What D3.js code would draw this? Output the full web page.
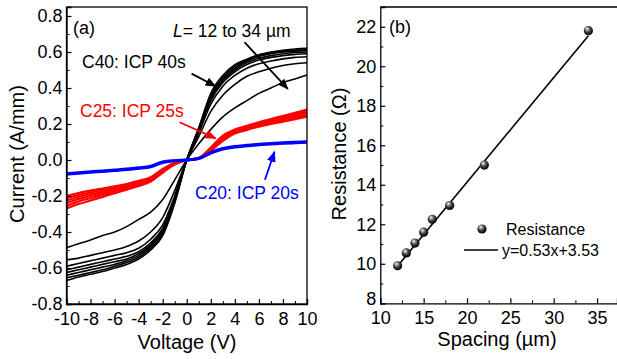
<!DOCTYPE html>
<html>
<head>
<meta charset="utf-8">
<script src="https://cdn.jsdelivr.net/npm/d3@7"></script>
<style>
  body { margin: 0; background: #fff; }
  svg text { font-family: Arial, "Liberation Sans", sans-serif; }
</style>
</head>
<body>
<div id="chart"></div>
<script>
// ---- panel (a) data: I-V curves ----
const voltage = [-10,-9,-8,-7,-6,-5,-4,-3,-2,-1,0,1,2,3,4,5,6,7,8,9,10];

const c40Curves = [
  [-0.67,-0.65,-0.635,-0.62,-0.60,-0.58,-0.55,-0.50,-0.42,-0.24,0,0.18,0.37,0.47,0.53,0.56,0.585,0.60,0.61,0.617,0.62],
  [-0.655,-0.64,-0.625,-0.61,-0.59,-0.57,-0.54,-0.49,-0.41,-0.23,0,0.175,0.36,0.46,0.52,0.555,0.58,0.595,0.605,0.61,0.613],
  [-0.64,-0.625,-0.61,-0.595,-0.58,-0.56,-0.53,-0.48,-0.40,-0.225,0,0.17,0.35,0.45,0.51,0.55,0.575,0.59,0.60,0.605,0.607],
  [-0.625,-0.61,-0.595,-0.58,-0.565,-0.55,-0.52,-0.47,-0.39,-0.22,0,0.165,0.34,0.44,0.50,0.54,0.565,0.58,0.59,0.597,0.60],
  [-0.61,-0.595,-0.58,-0.565,-0.55,-0.535,-0.51,-0.46,-0.38,-0.21,0,0.16,0.33,0.43,0.49,0.53,0.555,0.57,0.58,0.587,0.59],
  [-0.59,-0.575,-0.56,-0.545,-0.53,-0.515,-0.49,-0.44,-0.36,-0.20,0,0.15,0.31,0.41,0.47,0.51,0.535,0.55,0.562,0.57,0.574],
  [-0.555,-0.545,-0.53,-0.515,-0.50,-0.48,-0.45,-0.40,-0.32,-0.17,0,0.13,0.27,0.36,0.42,0.465,0.49,0.51,0.525,0.535,0.54],
  [-0.487,-0.465,-0.445,-0.42,-0.40,-0.37,-0.33,-0.29,-0.22,-0.11,0,0.09,0.17,0.24,0.29,0.33,0.37,0.40,0.43,0.45,0.472]
];

const c25Curves = [
  [-0.27,-0.245,-0.225,-0.205,-0.185,-0.165,-0.145,-0.12,-0.07,-0.025,0,0.012,0.07,0.135,0.17,0.19,0.21,0.228,0.245,0.262,0.28],
  [-0.255,-0.23,-0.212,-0.195,-0.177,-0.16,-0.14,-0.115,-0.066,-0.023,0,0.011,0.066,0.128,0.166,0.186,0.205,0.222,0.238,0.255,0.272],
  [-0.24,-0.217,-0.2,-0.185,-0.17,-0.154,-0.134,-0.111,-0.062,-0.021,0,0.01,0.062,0.123,0.162,0.182,0.2,0.216,0.232,0.248,0.264],
  [-0.225,-0.205,-0.19,-0.176,-0.162,-0.147,-0.128,-0.106,-0.058,-0.019,0,0.009,0.058,0.118,0.157,0.177,0.195,0.21,0.225,0.24,0.256],
  [-0.212,-0.194,-0.18,-0.167,-0.154,-0.14,-0.122,-0.1,-0.054,-0.017,0,0.008,0.054,0.112,0.152,0.172,0.19,0.205,0.219,0.233,0.248],
  [-0.2,-0.183,-0.17,-0.158,-0.146,-0.133,-0.116,-0.095,-0.05,-0.015,0,0.007,0.05,0.106,0.147,0.167,0.185,0.2,0.213,0.227,0.24]
];

const c20Curves = [
  [-0.08,-0.074,-0.069,-0.064,-0.059,-0.054,-0.047,-0.038,-0.014,-0.005,0,0.009,0.042,0.064,0.076,0.082,0.088,0.092,0.096,0.099,0.102],
  [-0.076,-0.07,-0.065,-0.06,-0.055,-0.05,-0.043,-0.034,-0.01,-0.003,0,0.007,0.038,0.06,0.072,0.078,0.084,0.088,0.092,0.095,0.098]
];

const voltTicks = [-10,-8,-6,-4,-2,0,2,4,6,8,10];
const currentTicks = [-0.8,-0.6,-0.4,-0.2,0.0,0.2,0.4,0.6,0.8];

// ---- panel (b) data: resistance vs spacing ----
const spacing = [12, 13, 14, 15, 16, 18, 22, 34];
const resistance = [9.9, 10.55, 11.05, 11.6, 12.25, 12.95, 15.0, 21.8];
const fitSlope = 0.53;
const fitIntercept = 3.53;
const spacingTicks = [10, 15, 20, 25, 30, 35];
const resTicks = [8, 10, 12, 14, 16, 18, 20, 22];

const W = 617, H = 359;
const svg = d3.select("#chart").append("svg")
  .attr("width", W).attr("height", H);

const defs = svg.append("defs");
function arrowMarker(id, color) {
  defs.append("marker")
    .attr("id", id)
    .attr("viewBox", "0 0 10 10")
    .attr("refX", 9).attr("refY", 5)
    .attr("markerWidth", 11).attr("markerHeight", 11)
    .attr("markerUnits", "userSpaceOnUse")
    .attr("orient", "auto")
    .append("path").attr("d", "M0,1 L10,5 L0,9 Z").attr("fill", color);
}
arrowMarker("arrK", "#000");
arrowMarker("arrR", "#ff0000");
arrowMarker("arrB", "#0000ff");

const grad = defs.append("radialGradient").attr("id", "ball")
  .attr("cx", "45%").attr("cy", "40%").attr("r", "60%")
  .attr("fx", "35%").attr("fy", "28%");
grad.append("stop").attr("offset", "0%").attr("stop-color", "#ffffff");
grad.append("stop").attr("offset", "25%").attr("stop-color", "#a0a0a0");
grad.append("stop").attr("offset", "60%").attr("stop-color", "#333");
grad.append("stop").attr("offset", "100%").attr("stop-color", "#000");

// ================= panel (a) =================
const xa = d3.scaleLinear().domain([-10, 10]).range([66.5, 307]);
const ya = d3.scaleLinear().domain([-0.8, 0.85]).range([304, 7]);

const lineA = d3.line()
  .x((d, i) => xa(voltage[i]))
  .y(d => ya(d))
  .curve(d3.curveMonotoneX);

const gA = svg.append("g");

gA.selectAll(".c40").data(c40Curves).enter().append("path")
  .attr("d", lineA).attr("fill", "none")
  .attr("stroke", "#000").attr("stroke-width", 1.6);

gA.selectAll(".c25").data(c25Curves).enter().append("path")
  .attr("d", lineA).attr("fill", "none")
  .attr("stroke", "#ff0000").attr("stroke-width", 2.1);

gA.selectAll(".c20").data(c20Curves).enter().append("path")
  .attr("d", lineA).attr("fill", "none")
  .attr("stroke", "#0000ff").attr("stroke-width", 2.8);

// frame
gA.append("rect")
  .attr("x", xa(-10)).attr("y", ya(0.85))
  .attr("width", xa(10) - xa(-10)).attr("height", ya(-0.8) - ya(0.85))
  .attr("fill", "none").attr("stroke", "#000").attr("stroke-width", 1.3);

function styleAxis(g) {
  g.select(".domain").attr("stroke-width", 1.3);
  g.selectAll(".tick line").attr("stroke-width", 1.2);
  g.selectAll("text").attr("font-size", 18).attr("fill", "#000")
    .style("font-family", "Arial, 'Liberation Sans', sans-serif");
}

const xAxisA = gA.append("g").attr("transform", `translate(0,${ya(-0.8)})`)
  .call(d3.axisBottom(xa).tickValues(voltTicks).tickSize(-5).tickPadding(8)
    .tickFormat(d => String(d)));
styleAxis(xAxisA);
gA.append("g").attr("transform", `translate(0,${ya(-0.8)})`)
  .call(d3.axisBottom(xa).tickValues(d3.range(-9, 10, 2)).tickSize(-3).tickFormat(""))
  .call(g => g.select(".domain").remove());

const yAxisA = gA.append("g").attr("transform", `translate(${xa(-10)},0)`)
  .call(d3.axisLeft(ya).tickValues(currentTicks).tickSize(-5).tickPadding(4)
    .tickFormat(d => d.toFixed(1)));
styleAxis(yAxisA);
gA.append("g").attr("transform", `translate(${xa(-10)},0)`)
  .call(d3.axisLeft(ya).tickValues([-0.7,-0.5,-0.3,-0.1,0.1,0.3,0.5,0.7]).tickSize(-3).tickFormat(""))
  .call(g => g.select(".domain").remove());

gA.append("text").attr("x", 187).attr("y", 349)
  .attr("text-anchor", "middle").attr("font-size", 20).text("Voltage (V)");
gA.append("text").attr("transform", "translate(24,154) rotate(-90)")
  .attr("text-anchor", "middle").attr("font-size", 20).text("Current (A/mm)");

gA.append("text").attr("x", 73).attr("y", 34).attr("font-size", 18).text("(a)");

const lab = gA.append("text").attr("x", 173).attr("y", 37).attr("font-size", 17.5);
lab.append("tspan").attr("font-style", "italic").text("L");
lab.append("tspan").text("= 12 to 34 \u00b5m");

gA.append("text").attr("x", 82).attr("y", 68).attr("font-size", 17.5).text("C40: ICP 40s");
gA.append("text").attr("x", 80).attr("y", 117).attr("font-size", 17.5)
  .attr("fill", "#ff0000").text("C25: ICP 25s");
gA.append("text").attr("x", 195).attr("y", 199).attr("font-size", 17.5)
  .attr("fill", "#0000ff").text("C20: ICP 20s");

function arrow(x1, y1, x2, y2, color, id) {
  gA.append("line").attr("x1", x1).attr("y1", y1).attr("x2", x2).attr("y2", y2)
    .attr("stroke", color).attr("stroke-width", 1.8)
    .attr("marker-end", `url(#${id})`);
}
arrow(xa(0.4), ya(0.48), xa(2.4), ya(0.41), "#000", "arrK");
arrow(xa(4.8), ya(0.655), xa(8.4), ya(0.395), "#000", "arrK");
arrow(xa(-0.6), ya(0.21), xa(2.4), ya(0.12), "#ff0000", "arrR");
arrow(xa(6.5), ya(-0.11), xa(7.3), ya(0.045), "#0000ff", "arrB");

// ================= panel (b) =================
const xb = d3.scaleLinear().domain([10, 37.3]).range([380.3, 617]);
const yb = d3.scaleLinear().domain([8, 23]).range([303.3, 7]);

const gB = svg.append("g");

gB.append("line").attr("x1", xb(10)).attr("x2", 617)
  .attr("y1", yb(23)).attr("y2", yb(23))
  .attr("stroke", "#000").attr("stroke-width", 1.3);

const xAxisB = gB.append("g").attr("transform", `translate(0,${yb(8)})`)
  .call(d3.axisBottom(xb).tickValues(spacingTicks).tickSize(-5).tickPadding(8)
    .tickFormat(d => String(d)));
styleAxis(xAxisB);
gB.append("g").attr("transform", `translate(0,${yb(8)})`)
  .call(d3.axisBottom(xb).tickValues([12.5, 17.5, 22.5, 27.5, 32.5]).tickSize(-3).tickFormat(""))
  .call(g => g.select(".domain").remove());

const yAxisB = gB.append("g").attr("transform", `translate(${xb(10)},0)`)
  .call(d3.axisLeft(yb).tickValues(resTicks).tickSize(-5).tickPadding(4)
    .tickFormat(d => String(d)));
styleAxis(yAxisB);
// lift the bottom "8" a little so it clears the "10" below it
yAxisB.selectAll(".tick text").filter(d => d === 8).attr("dy", "0.05em");
gB.append("g").attr("transform", `translate(${xb(10)},0)`)
  .call(d3.axisLeft(yb).tickValues([9, 11, 13, 15, 17, 19, 21]).tickSize(-3).tickFormat(""))
  .call(g => g.select(".domain").remove());

const fitX = [spacing[0], spacing[spacing.length - 1]];
gB.append("path")
  .datum(fitX)
  .attr("d", d3.line().x(d => xb(d)).y(d => yb(fitSlope * d + fitIntercept)))
  .attr("fill", "none").attr("stroke", "#000").attr("stroke-width", 1.6);

gB.selectAll(".pt").data(spacing).enter().append("circle")
  .attr("cx", d => xb(d))
  .attr("cy", (d, i) => yb(resistance[i]))
  .attr("r", 4.6)
  .attr("fill", "url(#ball)");

gB.append("text").attr("x", 497).attr("y", 346)
  .attr("text-anchor", "middle").attr("font-size", 20).text("Spacing (\u00b5m)");
gB.append("text").attr("transform", "translate(346,154) rotate(-90)")
  .attr("text-anchor", "middle").attr("font-size", 20).text("Resistance (\u03a9)");
gB.append("text").attr("x", 389).attr("y", 33).attr("font-size", 18).text("(b)");

// legend
gB.append("circle").attr("cx", 482).attr("cy", 229).attr("r", 4.6).attr("fill", "url(#ball)");
gB.append("text").attr("x", 506).attr("y", 235).attr("font-size", 16).text("Resistance");
gB.append("line").attr("x1", 464).attr("x2", 498).attr("y1", 250).attr("y2", 250)
  .attr("stroke", "#000").attr("stroke-width", 1.6);
gB.append("text").attr("x", 502).attr("y", 256).attr("font-size", 16).text("y=0.53x+3.53");
</script>
</body>
</html>
